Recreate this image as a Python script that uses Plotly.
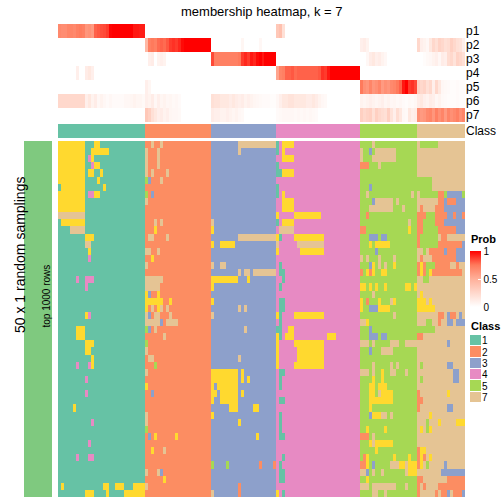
import plotly.graph_objects as go

W = H = 504

# ---------------- data ----------------
CLASS_IDS = [1, 2, 3, 4, 5, 7]
CLASS_SIZES = [29, 22, 22, 28, 19, 16]
CLASS_COLORS = {1: "#66C2A5", 2: "#FC8D62", 3: "#8DA0CB", 4: "#E78AC3",
                5: "#A6D854", 6: "#FFD92F", 7: "#E5C494"}
N_ROWS = 50
P_LABELS = ["p1", "p2", "p3", "p4", "p5", "p6", "p7"]

# membership probabilities, per class block (columns left to right)
P1 = ([0.68, 0.66, 0.66, 0.70, 0.70, 0.68, 0.72, 0.74, 0.72, 0.62, 0.64, 0.60, 0.80, 0.82, 0.84,
       0.85, 0.88, 0.99, 1, 1, 1, 1, 1, 1, 1, 0.95, 0.95, 0.94, 0.94]
      + [0] * 22 + [0] * 22 + [0.35, 0.4, 0.2] + [0] * 25 + [0] * 19 + [0] * 16)
P2 = ([0] * 29
      + [0.45, 0.72, 0.75, 0.72, 0.78, 0.80, 0.78, 0.82, 0.88, 0.90, 0.88, 0.92, 0.98, 1, 1, 1, 1, 1, 1, 1, 1, 1]
      + [0] * 10 + [0.06] + [0] * 5 + [0.05] + [0] * 5
      + [0] * 28
      + [0.1, 0.12, 0.08] + [0] * 16
      + [0.25, 0.1, 0.08, 0.05, 0.15, 0.25, 0.2, 0.28, 0.25, 0.2, 0.22, 0.3, 0.25, 0.2, 0.18, 0.1])
P3 = ([0] * 29
      + [0, 0.1, 0.12, 0, 0.08, 0.1, 0.08] + [0] * 15
      + [0.85, 0.72, 0.72, 0.72, 0.72, 0.72, 0.72, 0.72, 0.72, 0.75, 0.88, 0.92, 0.88, 0.95, 0.92, 0.98, 1,
         0.95, 1, 1, 1, 1]
      + [0] * 28
      + [0, 0, 0.05, 0.12, 0.15, 0.1, 0.12, 0.08, 0.05] + [0] * 10
      + [0, 0, 0.02, 0.04, 0.05, 0.08, 0.1, 0.05, 0.12, 0.1, 0.22, 0.25, 0.18, 0.28, 0.25, 0.2])
P4 = ([0, 0, 0, 0, 0, 0, 0.1, 0, 0, 0.12, 0.15, 0.1] + [0] * 17
      + [0] * 22 + [0] * 22
      + [0.55, 0.70, 0.72, 0.80, 0.80, 0.82, 0.78, 0.80, 0.80, 0.80, 0.80, 0.80, 0.80, 0.80, 0.82, 0.90,
         0.88, 0.95, 1, 1, 1, 1, 1, 1, 1, 1, 1, 1]
      + [0] * 19 + [0] * 16)
P5 = ([0] * 29
      + [0.1, 0.06] + [0] * 20
      + [0] * 22 + [0] * 28
      + [0.75, 0.65, 0.62, 0.70, 0.62, 0.65, 0.70, 0.60, 0.65, 0.62, 0.68, 0.70, 0.75, 0.80, 0.95, 1,
         0.88, 0.90, 0.85]
      + [0.3, 0.25, 0.28, 0.2, 0.25, 0.1, 0.25, 0.15, 0.05, 0.04, 0.03, 0.02, 0.02, 0.03, 0.02, 0.02])
P6 = ([0.25] * 9 + [0.1, 0.15, 0.08, 0.12, 0.05, 0.08, 0.05, 0.03, 0.05, 0.03, 0.03, 0.03, 0.03, 0.05,
                    0.05, 0.06, 0.08, 0.06, 0.06, 0.04]
      + [0.1, 0.08, 0.12, 0.05, 0.1, 0.06, 0.08, 0.05, 0.06, 0.04, 0.05, 0.03] + [0] * 10
      + [0.2, 0.18, 0.18, 0.15, 0.15, 0.15, 0.12, 0.15, 0.12, 0.1, 0.12, 0.08, 0.1, 0.08, 0.06, 0.05,
         0.04, 0.03, 0.03, 0.03, 0.02, 0.02]
      + [0.05, 0.1, 0.15, 0.15, 0.18, 0.18, 0.15, 0.15, 0.15, 0.15, 0.12, 0.12, 0.15, 0.12, 0.08, 0.05,
         0.04] + [0] * 11
      + [0.08, 0.06, 0.08, 0.1, 0.08, 0.06, 0.08, 0.1, 0.06, 0.08, 0.05, 0.06, 0.04, 0.05, 0.03, 0.02,
         0.04, 0.03, 0.05]
      + [0.12, 0.15, 0.1, 0.08, 0.12, 0.1, 0.05, 0.08, 0.04, 0.03, 0.02, 0.02, 0.02, 0.03, 0.02, 0.02])
P7 = ([0] * 29
      + [0.35, 0.3, 0.2, 0.15, 0.1, 0.12, 0.08, 0.1, 0.06, 0.05, 0.05, 0.04] + [0] * 10
      + [0.12, 0.1, 0.1, 0.08, 0.08, 0.1, 0.08, 0.06, 0.08, 0.05, 0.04] + [0] * 11
      + [0.03, 0.04, 0.05, 0.05, 0.05, 0.05, 0.04, 0.05, 0.04, 0.05, 0.04, 0.05, 0.04, 0.03] + [0] * 14
      + [0.3, 0.25, 0.28, 0.3, 0.2, 0.3, 0.25, 0.22, 0.2, 0.3, 0.18, 0.1, 0.22, 0.15, 0.05, 0.04, 0.15,
         0.1, 0.12]
      + [0.65, 0.60, 0.62, 0.68, 0.70, 0.62, 0.72, 0.65, 0.70, 0.60, 0.70, 0.65, 0.68, 0.72, 0.65, 0.70])

# cells in the sampling heatmap that differ from the column's consensus class
# (row_from, row_to, col_from, col_to, class)
OVERRIDES = [
    # class 1 block
    (0, 9, 0, 8, 6), (6, 6, 0, 0, 1), (10, 10, 0, 8, 7), (11, 11, 1, 8, 6), (12, 12, 4, 8, 7),
    (0, 0, 12, 13, 6), (1, 1, 11, 16, 6), (2, 2, 10, 10, 4), (2, 2, 11, 11, 6), (3, 3, 11, 11, 4),
    (3, 3, 12, 13, 6), (4, 4, 10, 11, 6), (4, 4, 14, 14, 6), (5, 5, 13, 13, 6), (6, 6, 15, 15, 6),
    (7, 7, 10, 11, 4), (7, 7, 12, 13, 6), (13, 13, 9, 11, 6), (14, 14, 9, 10, 7), (15, 15, 10, 10, 6),
    (16, 16, 10, 10, 4), (19, 19, 6, 6, 4), (19, 19, 9, 11, 4), (20, 20, 9, 9, 4), (24, 24, 9, 9, 6),
    (24, 24, 10, 10, 4), (26, 27, 6, 8, 6), (28, 28, 9, 11, 6), (29, 29, 9, 10, 6), (30, 31, 11, 11, 6),
    (31, 31, 6, 6, 4), (31, 31, 10, 10, 4), (33, 33, 9, 9, 4), (35, 35, 9, 9, 4), (37, 37, 5, 5, 6),
    (39, 39, 11, 11, 4), (42, 42, 10, 10, 4), (44, 44, 6, 6, 4), (44, 44, 10, 11, 4),
    (48, 48, 1, 1, 6), (48, 48, 15, 16, 6), (48, 48, 19, 21, 6), (48, 48, 25, 28, 6),
    (49, 49, 9, 11, 6), (49, 49, 16, 16, 6), (49, 49, 22, 28, 6),
    # class 2 block
    (0, 0, 31, 31, 7), (0, 0, 34, 34, 7), (1, 4, 29, 29, 7), (1, 3, 33, 33, 7), (4, 4, 31, 31, 7),
    (4, 4, 36, 36, 7), (5, 5, 29, 29, 5), (5, 5, 30, 30, 3), (5, 5, 34, 34, 7), (7, 7, 29, 29, 5),
    (7, 7, 31, 31, 3), (8, 8, 29, 29, 7), (11, 11, 32, 32, 7), (11, 11, 34, 34, 7), (12, 12, 32, 32, 6),
    (13, 13, 30, 31, 7), (13, 13, 36, 36, 7), (15, 15, 29, 30, 7), (15, 15, 33, 33, 7), (16, 16, 31, 31, 6),
    (17, 17, 29, 29, 7), (19, 20, 29, 33, 7), (19, 19, 34, 34, 7), (21, 21, 29, 29, 6), (21, 21, 30, 30, 3),
    (21, 21, 33, 33, 6), (22, 22, 29, 34, 6), (22, 22, 37, 37, 6), (23, 23, 29, 29, 6), (23, 23, 31, 31, 7),
    (23, 23, 33, 33, 6), (23, 23, 34, 34, 7), (23, 23, 36, 36, 7), (24, 24, 29, 29, 7), (24, 24, 30, 30, 3),
    (24, 24, 32, 33, 7), (24, 24, 37, 37, 7), (25, 25, 29, 33, 7), (25, 25, 34, 34, 3), (25, 25, 36, 39, 7),
    (26, 26, 29, 29, 5), (26, 26, 30, 30, 3), (26, 26, 32, 32, 7), (27, 27, 35, 35, 7), (28, 28, 29, 29, 5),
    (29, 29, 29, 29, 7), (30, 30, 30, 31, 7), (31, 31, 32, 32, 5), (32, 32, 29, 29, 7), (34, 34, 29, 29, 6),
    (35, 35, 31, 31, 3), (38, 39, 29, 29, 7), (40, 40, 29, 29, 5), (41, 41, 30, 30, 3), (41, 41, 32, 32, 6),
    (41, 41, 39, 39, 6), (43, 43, 31, 31, 6), (43, 43, 35, 35, 7), (46, 46, 29, 29, 7), (46, 46, 33, 33, 7),
    (46, 46, 34, 34, 3), (47, 47, 35, 35, 6), (48, 48, 29, 29, 7),
    # class 3 block
    (0, 0, 60, 72, 7), (1, 1, 60, 60, 7), (11, 11, 51, 51, 7), (12, 12, 51, 51, 6), (13, 13, 60, 72, 7),
    (14, 14, 51, 51, 6), (14, 14, 54, 58, 6), (17, 17, 51, 51, 7), (17, 17, 54, 55, 7), (18, 18, 60, 60, 7),
    (18, 18, 62, 63, 7), (18, 18, 65, 72, 7), (19, 19, 51, 59, 6), (19, 19, 63, 63, 6), (20, 20, 51, 51, 6),
    (22, 22, 51, 51, 6), (23, 23, 60, 60, 7), (23, 23, 62, 62, 7), (24, 24, 51, 51, 7), (26, 26, 62, 62, 7),
    (30, 30, 60, 60, 7), (32, 33, 51, 59, 6), (32, 33, 61, 61, 6), (33, 33, 63, 63, 6), (34, 36, 51, 51, 6),
    (34, 34, 53, 59, 6), (35, 35, 52, 52, 6), (35, 35, 54, 59, 6), (35, 35, 61, 61, 6), (36, 36, 54, 59, 6),
    (37, 37, 57, 59, 6), (37, 37, 65, 66, 6), (38, 38, 51, 51, 6), (39, 39, 60, 60, 6), (41, 41, 66, 66, 6),
    (45, 45, 51, 51, 5), (45, 45, 56, 56, 5), (45, 45, 67, 67, 2), (45, 45, 72, 72, 2), (48, 49, 60, 60, 2),
    (49, 49, 51, 51, 7),
    # class 4 block
    (0, 0, 73, 73, 1), (0, 0, 75, 78, 6), (1, 1, 73, 73, 1), (1, 1, 75, 75, 6), (2, 2, 75, 78, 6),
    (3, 3, 73, 73, 1), (4, 4, 73, 74, 1), (4, 4, 75, 78, 6), (6, 7, 73, 73, 1), (7, 7, 75, 75, 6),
    (8, 9, 75, 78, 6), (10, 10, 73, 73, 6), (10, 10, 79, 87, 6), (11, 11, 73, 73, 1), (11, 11, 75, 78, 6),
    (12, 12, 74, 78, 7), (13, 13, 73, 73, 6), (13, 13, 74, 74, 1), (13, 13, 79, 88, 6), (14, 14, 73, 73, 7),
    (14, 14, 80, 88, 7), (15, 15, 73, 73, 6), (15, 15, 81, 88, 6), (17, 17, 74, 74, 1), (18, 18, 74, 75, 1),
    (19, 19, 75, 75, 1), (20, 20, 74, 74, 1), (22, 23, 74, 75, 1), (24, 24, 73, 73, 6), (24, 24, 74, 74, 1),
    (24, 24, 79, 88, 6), (25, 25, 74, 74, 1), (26, 26, 73, 74, 1), (26, 26, 77, 78, 6), (27, 27, 73, 73, 6),
    (27, 27, 74, 74, 1), (27, 27, 76, 78, 6), (27, 27, 90, 92, 6), (28, 28, 73, 73, 6), (28, 28, 79, 88, 6),
    (29, 30, 73, 73, 6), (29, 30, 80, 88, 6), (31, 31, 73, 73, 6), (31, 31, 79, 88, 6), (32, 32, 74, 75, 1),
    (33, 34, 74, 74, 1), (36, 36, 74, 75, 1), (38, 40, 74, 74, 1), (41, 41, 74, 75, 1), (44, 44, 75, 75, 1),
    (45, 45, 74, 74, 1), (46, 47, 74, 75, 1), (49, 49, 73, 73, 6), (49, 49, 75, 75, 1),
    # class 5 block
    (0, 0, 105, 105, 7), (1, 2, 101, 101, 7), (1, 1, 104, 104, 3), (1, 1, 106, 112, 7), (2, 2, 105, 112, 7),
    (3, 3, 101, 103, 2), (3, 3, 107, 107, 7), (6, 6, 104, 104, 3), (7, 7, 103, 103, 7), (7, 7, 118, 118, 7),
    (8, 8, 105, 105, 3), (8, 8, 106, 111, 7), (8, 8, 113, 113, 7), (9, 9, 104, 111, 7), (9, 9, 115, 115, 7),
    (10, 10, 103, 103, 2), (11, 11, 117, 117, 7), (12, 12, 101, 102, 2), (12, 12, 117, 117, 6),
    (13, 13, 104, 106, 3), (13, 13, 108, 109, 3), (14, 14, 104, 104, 6), (14, 14, 106, 110, 6),
    (15, 15, 106, 106, 3), (16, 16, 101, 101, 7), (16, 16, 103, 103, 7), (16, 16, 107, 107, 7),
    (16, 16, 112, 112, 7), (17, 17, 104, 104, 3), (17, 17, 105, 105, 6), (17, 17, 107, 107, 7),
    (17, 17, 109, 109, 7), (17, 17, 112, 112, 6), (18, 18, 101, 101, 2), (18, 18, 103, 103, 6),
    (18, 18, 104, 104, 2), (18, 18, 105, 105, 6), (18, 18, 108, 109, 6), (20, 20, 101, 102, 6),
    (20, 20, 104, 104, 6), (20, 20, 106, 106, 6), (20, 20, 109, 109, 6), (20, 20, 116, 117, 6),
    (20, 20, 119, 119, 6), (21, 21, 105, 105, 7), (22, 22, 101, 101, 6), (22, 22, 103, 103, 2),
    (22, 22, 107, 107, 6), (22, 22, 111, 111, 7), (22, 22, 112, 112, 6), (23, 23, 101, 101, 6),
    (23, 23, 104, 106, 3), (23, 23, 107, 110, 6), (24, 24, 112, 112, 7), (25, 25, 101, 102, 7),
    (25, 25, 103, 103, 6), (26, 26, 104, 104, 3), (27, 27, 104, 106, 3), (27, 27, 108, 109, 3),
    (28, 28, 101, 103, 7), (28, 28, 105, 105, 7), (28, 28, 111, 113, 7), (28, 28, 116, 119, 7),
    (29, 29, 104, 104, 3), (29, 29, 108, 111, 7), (31, 31, 105, 105, 7), (31, 31, 111, 111, 7),
    (31, 31, 113, 113, 7), (32, 32, 101, 103, 7), (32, 32, 105, 105, 7), (32, 32, 108, 108, 6),
    (32, 32, 111, 112, 7), (32, 32, 116, 116, 7), (33, 33, 105, 105, 6), (33, 33, 108, 108, 6),
    (34, 34, 104, 105, 6), (34, 34, 107, 109, 6), (35, 35, 104, 105, 6), (35, 35, 107, 107, 7),
    (35, 35, 108, 111, 6), (36, 36, 104, 111, 6), (37, 37, 104, 104, 6), (38, 38, 104, 104, 3),
    (38, 38, 105, 107, 6), (38, 38, 108, 109, 7), (38, 38, 111, 111, 7), (40, 40, 103, 103, 6),
    (40, 40, 109, 109, 6), (41, 41, 101, 103, 2), (41, 41, 105, 105, 7), (42, 42, 104, 104, 6),
    (42, 42, 105, 105, 7), (42, 42, 106, 111, 6), (43, 43, 106, 106, 6), (44, 44, 102, 102, 2),
    (44, 44, 103, 103, 6), (44, 44, 112, 112, 6), (44, 44, 117, 117, 6), (45, 45, 101, 102, 2),
    (45, 45, 103, 103, 6), (45, 45, 105, 105, 3), (45, 45, 111, 113, 7), (45, 45, 114, 115, 6),
    (45, 45, 116, 116, 7), (45, 45, 117, 119, 6), (46, 46, 101, 102, 7), (46, 46, 103, 103, 3),
    (46, 46, 105, 105, 7), (46, 46, 108, 108, 7), (46, 46, 116, 116, 7), (46, 46, 117, 119, 6),
    (47, 47, 103, 103, 6), (48, 48, 101, 103, 7), (48, 48, 105, 112, 7), (48, 48, 116, 116, 7),
    (49, 49, 105, 106, 7), (49, 49, 109, 109, 7),
    # class 7 block
    (0, 0, 121, 126, 5), (5, 6, 120, 124, 5),
    (7, 7, 121, 126, 5), (7, 7, 127, 128, 2), (7, 7, 129, 129, 5), (7, 7, 130, 134, 3), (7, 7, 135, 135, 5),
    (8, 8, 127, 128, 2), (8, 8, 129, 129, 3), (8, 8, 130, 132, 2), (8, 8, 133, 135, 3),
    (9, 9, 121, 121, 2), (9, 9, 126, 128, 2), (9, 9, 129, 135, 3),
    (10, 10, 120, 122, 2), (10, 10, 123, 125, 5), (10, 10, 126, 129, 2), (10, 10, 130, 131, 3),
    (10, 10, 132, 132, 2), (10, 10, 133, 134, 3), (10, 10, 135, 135, 2),
    (11, 11, 120, 121, 2), (11, 11, 122, 125, 5), (11, 11, 126, 128, 2), (11, 11, 129, 135, 3),
    (12, 12, 120, 121, 2), (12, 12, 122, 126, 5), (12, 12, 127, 132, 2), (12, 12, 133, 135, 3),
    (13, 13, 120, 120, 2), (13, 13, 121, 126, 5), (13, 13, 128, 129, 2),
    (14, 14, 120, 120, 2), (14, 14, 121, 126, 5), (14, 14, 127, 134, 2), (14, 14, 135, 135, 3),
    (15, 15, 122, 122, 5), (15, 15, 124, 128, 2), (15, 15, 129, 129, 3), (15, 15, 130, 132, 2),
    (15, 15, 133, 135, 3),
    (16, 16, 121, 121, 2), (16, 16, 125, 132, 2), (16, 16, 133, 135, 3),
    (17, 17, 120, 120, 2), (17, 17, 121, 121, 6), (17, 17, 122, 122, 2), (17, 17, 123, 125, 5),
    (17, 17, 126, 130, 2), (17, 17, 133, 133, 2),
    (18, 18, 120, 120, 2), (18, 18, 121, 121, 6), (18, 18, 122, 122, 2), (18, 18, 123, 123, 5),
    (18, 18, 124, 124, 6), (18, 18, 125, 134, 2),
    (19, 19, 122, 123, 5), (21, 21, 121, 121, 6), (22, 22, 120, 122, 6), (22, 22, 124, 124, 6),
    (23, 23, 120, 125, 6), (24, 24, 127, 128, 2), (24, 24, 130, 130, 3), (24, 24, 131, 132, 2),
    (24, 24, 134, 134, 3), (25, 25, 123, 124, 5), (25, 25, 127, 127, 2), (25, 25, 130, 131, 3),
    (25, 25, 133, 135, 3), (26, 26, 120, 125, 5), (27, 27, 120, 121, 2), (28, 28, 130, 130, 3),
    (31, 31, 121, 121, 5), (31, 31, 130, 131, 3), (32, 32, 132, 133, 3), (33, 33, 121, 121, 5),
    (33, 33, 132, 133, 3), (35, 35, 120, 120, 2), (35, 35, 130, 130, 6), (36, 36, 120, 121, 2),
    (37, 37, 120, 120, 2), (37, 37, 130, 131, 3), (38, 38, 124, 124, 6), (39, 39, 123, 123, 5),
    (39, 39, 127, 127, 6), (39, 39, 133, 135, 6), (40, 40, 121, 121, 6), (40, 40, 123, 123, 5),
    (40, 40, 124, 124, 6), (43, 43, 120, 120, 2), (43, 43, 121, 122, 6), (44, 44, 120, 120, 2),
    (44, 44, 121, 121, 6), (44, 44, 122, 122, 2), (44, 44, 124, 124, 6), (45, 45, 120, 120, 2),
    (45, 45, 121, 121, 6), (45, 45, 123, 123, 5), (45, 45, 129, 129, 3), (46, 46, 128, 135, 3),
    (47, 47, 120, 121, 2), (47, 47, 130, 135, 2), (48, 48, 120, 120, 2), (48, 48, 122, 122, 2),
    (48, 48, 127, 135, 2), (49, 49, 120, 120, 2), (49, 49, 126, 126, 2), (49, 49, 128, 129, 2),
    (49, 49, 130, 130, 3), (49, 49, 132, 134, 2), (49, 49, 135, 135, 3),
]

# ---------------- build matrices ----------------
col_class = []
for cid, n in zip(CLASS_IDS, CLASS_SIZES):
    col_class += [cid] * n
N_COLS = len(col_class)

Z = [list(col_class) for _ in range(N_ROWS)]
for r0, r1, c0, c1, v in OVERRIDES:
    for r in range(r0, r1 + 1):
        for c in range(c0, c1 + 1):
            Z[r][c] = v

P = [P1, P2, P3, P4, P5, P6, P7]

# discrete colour scale for class ids 1..7
disc_scale = []
for k in range(1, 8):
    disc_scale.append([(k - 1) / 7, CLASS_COLORS[k]])
    disc_scale.append([k / 7, CLASS_COLORS[k]])

prob_scale = [[0, "#FFFFFF"], [0.25, "#FFD8CC"], [0.5, "#FFB09A"], [0.75, "#FF7A5C"], [1, "#FF0000"]]


def py(px):
    return 1 - px / H


def pxx(px):
    return px / W


X0, X1 = 58, 465
cols = list(range(N_COLS))

fig = go.Figure()

# probability annotation rows
fig.add_trace(go.Heatmap(
    z=P, x=cols, y=list(range(7)), xaxis="x", yaxis="y3",
    colorscale=prob_scale, zmin=0, zmax=1, hoverinfo="skip",
    colorbar=dict(x=pxx(470), xanchor="left", xpad=0, y=py(251), yanchor="top", ypad=0,
                  len=56 / H, lenmode="fraction", thickness=11, thicknessmode="pixels",
                  outlinewidth=0, tickvals=[0, 0.5, 1], ticktext=["0", "0.5", "1"],
                  ticks="inside", ticklen=3, tickcolor="white",
                  tickfont=dict(size=10, color="black", family="Liberation Sans, Arial")),
))

# class annotation row
fig.add_trace(go.Heatmap(
    z=[col_class], x=cols, y=[0], xaxis="x", yaxis="y2",
    colorscale=disc_scale, zmin=0.5, zmax=7.5, showscale=False, hoverinfo="skip",
))

# main sampling heatmap
fig.add_trace(go.Heatmap(
    z=Z, x=cols, y=list(range(N_ROWS)), xaxis="x", yaxis="y",
    colorscale=disc_scale, zmin=0.5, zmax=7.5, showscale=False, hoverinfo="skip",
))

# left slice bar
fig.add_trace(go.Heatmap(
    z=[[0]], xaxis="x2", yaxis="y4",
    colorscale=[[0, "#7FC97F"], [1, "#7FC97F"]], showscale=False, hoverinfo="skip",
))

# class legend
fig.add_trace(go.Heatmap(
    z=[[c] for c in CLASS_IDS], x=[0], y=list(range(len(CLASS_IDS))), xaxis="x3", yaxis="y5",
    colorscale=disc_scale, zmin=0.5, zmax=7.5, showscale=False, hoverinfo="skip", ygap=1,
))

noax = dict(showgrid=False, zeroline=False, showticklabels=False, ticks="", showline=False)
font = "Liberation Sans, Arial, sans-serif"

fig.update_layout(
    width=W, height=H, margin=dict(l=0, r=0, t=0, b=0),
    paper_bgcolor="white", plot_bgcolor="white",
    font=dict(family=font, color="black"),
    xaxis=dict(domain=[pxx(X0), pxx(X1)], range=[-0.5, N_COLS - 0.5], anchor="y", **noax),
    yaxis=dict(domain=[py(497), py(141)], range=[N_ROWS - 0.5, -0.5], anchor="x", **noax),
    yaxis2=dict(domain=[py(138), py(124)], range=[0.5, -0.5], anchor="x", side="right",
                showgrid=False, zeroline=False, ticks="", tickvals=[0], ticktext=["Class"],
                tickfont=dict(size=12, family=font)),
    yaxis3=dict(domain=[py(122), py(24)], range=[6.5, -0.5], anchor="x", side="right",
                showgrid=False, zeroline=False, ticks="", tickvals=list(range(7)), ticktext=P_LABELS,
                tickfont=dict(size=12, family=font)),
    xaxis2=dict(domain=[pxx(24), pxx(52)], anchor="y4", **noax),
    yaxis4=dict(domain=[py(497), py(141)], anchor="x2", **noax),
    xaxis3=dict(domain=[pxx(470), pxx(481)], anchor="y5", **noax),
    yaxis5=dict(domain=[py(403), py(335)], range=[len(CLASS_IDS) - 0.5, -0.5], anchor="x3", side="right",
                showgrid=False, zeroline=False, ticks="", tickvals=list(range(len(CLASS_IDS))),
                ticktext=[str(c) for c in CLASS_IDS], tickfont=dict(size=10, family=font)),
    annotations=[
        dict(text="membership heatmap, k = 7", x=pxx(262), y=py(11), xref="paper", yref="paper",
             yanchor="middle", showarrow=False, font=dict(size=13, family=font)),
        dict(text="50 x 1 random samplings", x=pxx(10), y=py(255), xref="paper", yref="paper",
             yanchor="middle", showarrow=False, textangle=-90, font=dict(size=14, family=font)),
        dict(text="top 1000 rows", x=pxx(38), y=py(296), xref="paper", yref="paper",
             yanchor="middle", showarrow=False, textangle=-90, font=dict(size=10, family=font)),
        dict(text="<b>Prob</b>", x=pxx(469), y=py(239), xref="paper", yref="paper", xanchor="left",
             yanchor="middle", showarrow=False, font=dict(size=11, family=font)),
        dict(text="<b>Class</b>", x=pxx(469), y=py(326), xref="paper", yref="paper", xanchor="left",
             yanchor="middle", showarrow=False, font=dict(size=11, family=font)),
    ],
)

fig.write_html("out.html", config={"displayModeBar": False},
               post_script="document.body.style.margin='0';")
